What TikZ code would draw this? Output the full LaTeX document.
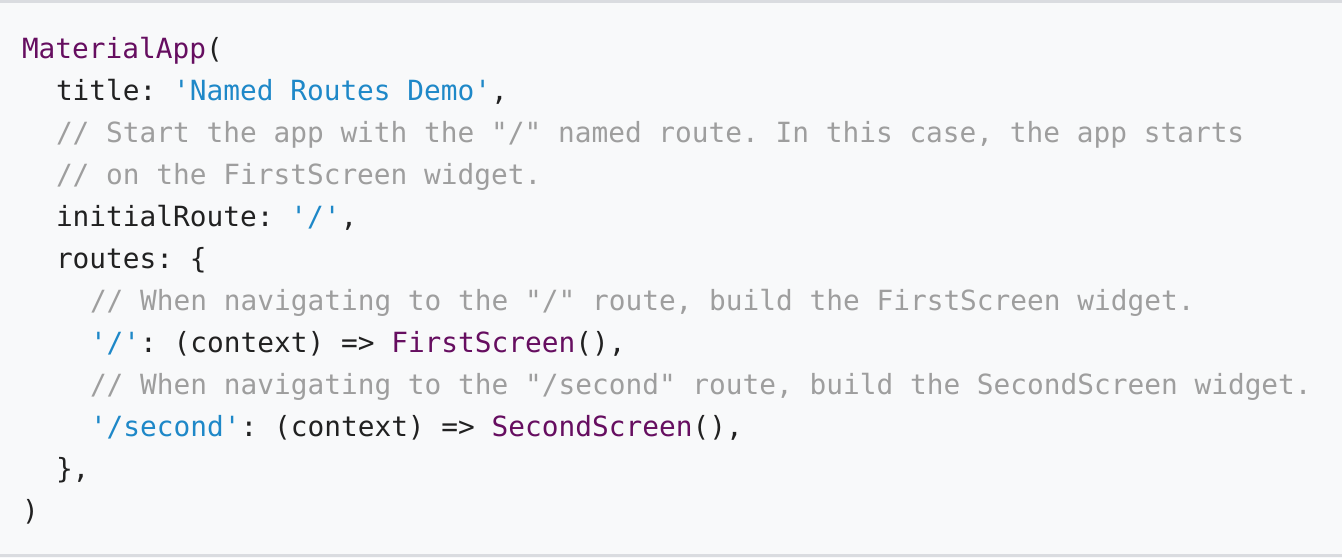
\documentclass[tikz,border=0pt]{standalone}
\usepackage{fontspec}
\setmonofont{DejaVu Sans Mono}
\definecolor{bgc}{HTML}{F8F9FA}
\definecolor{rulec}{HTML}{DADCE0}
\definecolor{kw}{HTML}{660E60}
\definecolor{str}{HTML}{1E88C8}
\definecolor{cmt}{HTML}{9E9E9E}
\definecolor{txt}{HTML}{212121}
\newcommand{\Kw}[1]{\textcolor{kw}{#1}}
\newcommand{\Str}[1]{\textcolor{str}{#1}}
\newcommand{\Cmt}[1]{\textcolor{cmt}{#1}}
\begin{document}
\begin{tikzpicture}[x=1pt,y=-1pt,
  codeline/.style={anchor=base west,inner sep=0pt,outer sep=0pt,text=txt,
    font=\fontsize{27.8}{34}\selectfont\ttfamily}]
\useasboundingbox (0,0) rectangle (1342,558);
\fill[bgc] (0,0) rectangle (1342,558);
\fill[rulec] (0,0) rectangle (1342,2.5);
\fill[rulec] (0,554) rectangle (1342,556.5);
\node[codeline] (l1) at (22,58) {\Kw{MaterialApp}(};
\node[codeline] (l2) at (56,100) {title: \Str{'Named Routes Demo'},};
\node[codeline] (l3) at (56,142) {\Cmt{// Start the app with the "/" named route. In this case, the app starts}};
\node[codeline] (l4) at (56,184) {\Cmt{// on the FirstScreen widget.}};
\node[codeline] (l5) at (56,226) {initialRoute: \Str{'/'},};
\node[codeline] (l6) at (56,268) {routes: \{};
\node[codeline] (l7) at (90,310) {\Cmt{// When navigating to the "/" route, build the FirstScreen widget.}};
\node[codeline] (l8) at (90,352) {\Str{'/'}: (context) => \Kw{FirstScreen}(),};
\node[codeline] (l9) at (90,394) {\Cmt{// When navigating to the "/second" route, build the SecondScreen widget.}};
\node[codeline] (l10) at (90,436) {\Str{'/second'}: (context) => \Kw{SecondScreen}(),};
\node[codeline] (l11) at (56,478) {\},};
\node[codeline] (l12) at (22,520) {)};
\end{tikzpicture}
\end{document}
